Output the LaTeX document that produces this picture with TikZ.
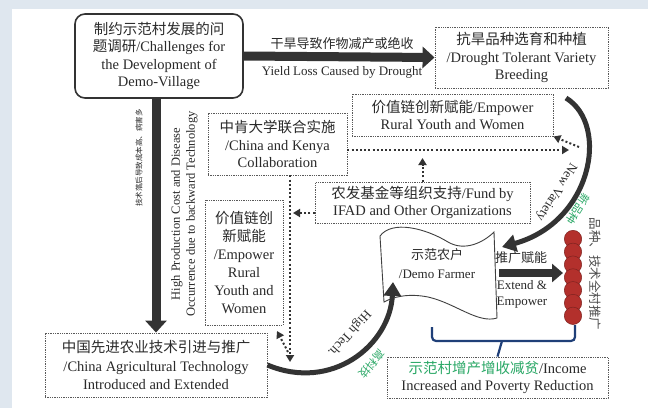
\documentclass[tikz,border=0pt]{standalone}
\usepackage{fontspec}
\setmainfont{Liberation Serif}
\newfontfamily\cjk{Noto Sans CJK SC}
\usetikzlibrary{arrows.meta,calc}
\newcommand\myzh[1]{{\cjk #1}}
\definecolor{bgc}{HTML}{DFE7EF}
\definecolor{ink}{HTML}{2A2A2A}
\definecolor{arr}{HTML}{333333}
\definecolor{grn}{HTML}{2AA866}
\definecolor{ballred}{HTML}{B3302C}
\definecolor{bracecol}{HTML}{1F3F78}
\begin{document}
\begin{tikzpicture}[x=1pt,y=-1pt,
  every node/.style={text=ink, inner sep=0pt, align=center},
  t145/.style={font=\fontsize{14.5}{17.5}\selectfont},
  t13/.style={font=\fontsize{13}{15.5}\selectfont},
  t125/.style={font=\fontsize{12.5}{15}\selectfont},
  dbox/.style={t145, draw=black!65, line width=0.9pt, dash pattern=on 1.3pt off 1pt},
  rbox/.style={t145, draw=arr, line width=1.6pt, rounded corners=10pt},
  blockarrow/.style={draw=arr, line width=9pt, -{Triangle[length=12pt,width=21pt]}},
  smallblock/.style={draw=arr, line width=8pt, -{Triangle[length=11pt,width=18pt]}},
  curvearrow/.style={draw=arr, line width=5pt, -{Triangle[length=14pt,width=17pt]}},
  dotarrow/.style={draw=arr, line width=2pt, dash pattern=on 2pt off 2.2pt, -{Triangle[length=7pt,width=8pt]}},
  bracestyle/.style={draw=bracecol, line width=2.2pt, rounded corners=4pt}
]
\useasboundingbox (0,0) rectangle (648,408);
\fill[bgc] (0,0) rectangle (648,408);
\fill[white] (12,9) rectangle (648,408);

% boxes
\node[rbox, minimum width=168pt, minimum height=84pt] (A) at (159,56)
  {\myzh{制约示范村发展的问}\\\myzh{题调研}/Challenges for\\the Development of\\Demo-Village};
\node[dbox, minimum width=173pt, minimum height=61pt] (B) at (521.5,57.5)
  {\myzh{抗旱品种选育和种植}\\/Drought Tolerant Variety\\Breeding};
\node[dbox, minimum width=201pt, minimum height=42pt] (C) at (452.5,115)
  {\myzh{价值链创新赋能}/Empower\\Rural Youth and Women};
\node[dbox, minimum width=139pt, minimum height=62pt] (D) at (277.5,144)
  {\myzh{中肯大学联合实施}\\/China and Kenya\\Collaboration};
\node[dbox, minimum width=215pt, minimum height=41pt] (E) at (422.5,202.5)
  {\myzh{农发基金等组织支持}/Fund by\\IFAD and Other Organizations};
\node[dbox, minimum width=78pt, minimum height=125pt, font=\fontsize{14.5}{18}\selectfont] (F) at (244,262.5)
  {\myzh{价值链创}\\\myzh{新赋能}\\/Empower\\Rural\\Youth and\\Women};
\node[dbox, minimum width=222pt, minimum height=64pt, font=\fontsize{14.5}{18.5}\selectfont] (G) at (156,365)
  {\myzh{中国先进农业技术引进与推广}\\/China Agricultural Technology\\Introduced and Extended};
\node[dbox, minimum width=221pt, minimum height=41pt, font=\fontsize{14.5}{17}\selectfont] (H) at (497.5,377.5)
  {{\color{grn}\myzh{示范村增产增收减贫}}/Income\\Increased and Poverty Reduction};

% demo farmer banner
\draw[line width=0.9pt, draw=black!75, fill=white]
  (380,236) .. controls (392,220) and (425,228) .. (448,242)
  .. controls (465,252) and (484,242) .. (494,232) -- (497,318)
  .. controls (478,324) and (455,303) .. (428,297)
  .. controls (408,293) and (393,297) .. (384,302) -- cycle;
\node[font=\fontsize{13}{19}\selectfont] (farmer) at (437,264) {\myzh{示范农户}\\/Demo Farmer};
\coordinate (farmerR) at (499,273);
\coordinate (farmerNE) at (502,247);
\coordinate (farmerSW) at (393,282);

% red balls
\foreach \yy in {239,251.8,264.6,277.4,290.2,303,315.8}
  \filldraw[fill=ballred, draw=ballred!70!black, line width=0.5pt] (573,\yy) circle (8.7pt);
\coordinate (ballsW) at (563,273);
\node[t125, rotate=-90, text=black!70] (spread) at (595,274) {\myzh{品种、技术全村推广}};

% main thick arrows
\draw[blockarrow] (A.east) -- (B.west);
\node[t13] (yl1) at (342,44) {\myzh{干旱导致作物减产或绝收}};
\node[t13] (yl2) at (342,72) {Yield Loss Caused by Drought};

\draw[blockarrow] (A.south -| G.north) -- (G.north);
\node[font=\fontsize{7.5}{9}\selectfont, rotate=90] (vl1) at (139,158) {\myzh{技术落后导致成本高、病害多}};
\node[t125, rotate=90] (vl2) at (184.5,214) {High Production Cost and Disease\\Occurrence due to backward Technology};

\draw[smallblock] (farmerR) -- (ballsW);
\node[t13] (ex1) at (521,258) {\myzh{推广赋能}};
\node[t13] (ex2) at (522,294.5) {Extend \&\\Empower};

% curved arrows
\coordinate (nvs) at (566,98);
\draw[curvearrow] (nvs) .. controls (610,125) and (592,222) .. (farmerNE);
\node[t13, rotate=238] (nvlab) at (556,192) {New Variety};
\node[font=\fontsize{11}{12}\selectfont, rotate=238, text=grn] (nvzh) at (578,209) {\myzh{新品种}};

\draw[curvearrow] (G.east) .. controls (332,392) and (390,345) .. (farmerSW);
\node[t13, rotate=228] (htlab) at (349,333) {High Tech.};
\node[font=\fontsize{11}{12}\selectfont, rotate=228, text=grn] (htzh) at (372,364) {\myzh{高科技}};

% dotted connectors
\coordinate (hr) at (569,150);
\draw[dotarrow] (D.east |- hr) -- (hr);
\coordinate (eup) at (422.5,158);
\draw[dotarrow] (E.north) -- (eup);
\coordinate (cv) at (579,147);
\draw[dotarrow] (cv) -- (C.south east);
\coordinate (vbot) at (290,362);
\draw[dotarrow] (D.south -| vbot) -- (vbot);
\coordinate (el) at (293,213);
\draw[dotarrow] (E.west |- el) -- (el);
\coordinate (fu) at (288,352);
\coordinate (fut) at (277,331);
\draw[dotarrow] (fu) -- (fut);

% bracket
\coordinate (brl) at (432,327);
\coordinate (brr) at (575,325);
\draw[bracestyle] (brl) -- (432,341) -- (575,341) -- (brr);
\draw[draw=bracecol, line width=2.2pt] (502,341) -- (H.north);
\end{tikzpicture}
\end{document}
